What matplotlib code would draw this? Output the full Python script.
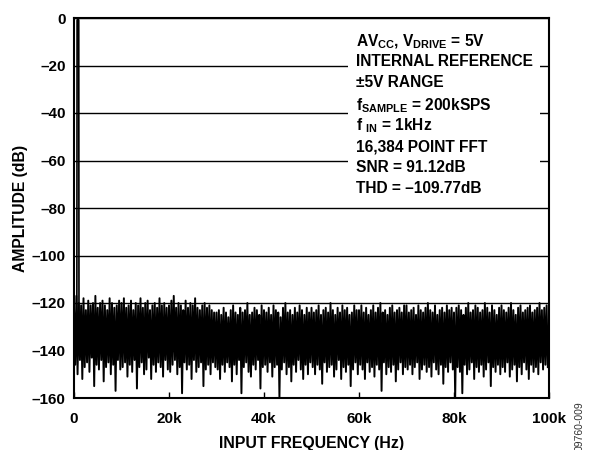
import numpy as np
import matplotlib
matplotlib.use('agg')
import matplotlib.pyplot as plt
from matplotlib.patches import Rectangle

plt.rcParams['font.family'] = ['Liberation Sans', 'DejaVu Sans']
plt.rcParams['font.weight'] = 'bold'
plt.rcParams['mathtext.fontset'] = 'custom'
plt.rcParams['mathtext.rm'] = 'Liberation Sans:bold'
plt.rcParams['mathtext.it'] = 'Liberation Sans:bold'
plt.rcParams['mathtext.bf'] = 'Liberation Sans:bold'

# fundamental at 1 kHz
fund_f = [600, 650, 850, 1000, 1050]
fund_db = [-125, -1, 0, -1, -125]

# noise floor, upper and lower ends of each stroke (every 500 Hz)
noise_hi = [
    -122, -117, -120, -121, -118, -123, -119, -121, -120, -117, -122, -120, -119, -121, -123, -118, -120, -122, -121, -119,
    -120, -118, -122, -121, -119, -123, -120, -121, -118, -122, -120, -119, -123, -121, -120, -122, -118, -121, -120, -122,
    -121, -119, -117, -122, -120, -121, -123, -119, -122, -120, -121, -118, -122, -123, -121, -120, -122, -121, -123, -124,
    -124, -123, -125, -122, -124, -126, -123, -121, -124, -125, -122, -124, -123, -120, -125, -124, -122, -123, -125, -121,
    -123, -124, -122, -125, -121, -123, -124, -126, -122, -120, -124, -123, -125, -122, -124, -121, -123, -125, -122, -124,
    -122, -124, -123, -121, -125, -123, -122, -124, -120, -123, -125, -122, -124, -121, -123, -122, -125, -124, -121, -123,
    -123, -121, -124, -122, -125, -123, -121, -124, -122, -120, -124, -123, -125, -122, -121, -124, -123, -122, -124, -121,
    -121, -124, -123, -122, -125, -121, -123, -124, -122, -120, -123, -124, -121, -125, -123, -122, -124, -121, -123, -122,
    -124, -122, -121, -123, -125, -122, -120, -124, -123, -121, -122, -124, -123, -120, -122, -124, -121, -123, -125, -122,
    -121, -123, -124, -122, -120, -123, -125, -122, -121, -124, -123, -122, -121, -124, -123, -122, -120, -123, -122, -121,
]
noise_lo = [
    -146, -150, -144, -152, -147, -145, -149, -143, -155, -146, -148, -144, -153, -147, -145, -150, -146, -157, -144, -148,
    -147, -145, -151, -146, -149, -144, -156, -147, -145, -150, -148, -143, -152, -146, -149, -145, -147, -151, -144, -148,
    -149, -146, -144, -150, -147, -158, -145, -148, -146, -152, -144, -149, -147, -145, -155, -148, -146, -150, -145, -147,
    -148, -152, -146, -149, -145, -147, -153, -146, -150, -144, -158, -147, -145, -149, -151, -146, -148, -144, -156, -147,
    -146, -149, -145, -151, -147, -146, -160, -148, -145, -150, -147, -153, -146, -149, -144, -148, -152, -146, -150, -145,
    -147, -150, -146, -148, -154, -145, -149, -147, -146, -151, -148, -144, -152, -147, -149, -146, -155, -148, -145, -150,
    -146, -148, -152, -145, -149, -147, -151, -146, -148, -157, -145, -150, -147, -149, -146, -153, -148, -145, -150, -147,
    -148, -146, -150, -147, -145, -152, -148, -146, -149, -147, -151, -145, -148, -150, -146, -154, -147, -149, -145, -148,
    -160, -147, -149, -158, -146, -150, -148, -145, -152, -147, -149, -146, -151, -148, -145, -155, -147, -149, -146, -150,
    -147, -149, -145, -151, -148, -146, -153, -147, -150, -145, -148, -152, -146, -149, -147, -150, -145, -148, -146, -147,
]

info_lines = [
    r'AV$_{\mathrm{CC}}$, V$_{\mathrm{DRIVE}}$ = 5V',
    'INTERNAL REFERENCE',
    '\u00b15V RANGE',
    r'f$_{\mathrm{SAMPLE}}$ = 200kSPS',
    r'f $_{\mathrm{IN}}$ = 1kHz',
    '16,384 POINT FFT',
    'SNR = 91.12dB',
    'THD = \u2013109.77dB',
]
info_base_px = [46.5, 66.5, 87, 110, 130.5, 151.5, 172, 192.5]

yticks = [0, -20, -40, -60, -80, -100, -120, -140, -160]
xticks = [0, 20000, 40000, 60000, 80000, 100000]
xticklabels = ['0', '20k', '40k', '60k', '80k', '100k']

# interleave hi/lo ends -> dense FFT-looking band
noise_db = np.empty(2 * len(noise_hi))
noise_db[0::2] = noise_hi
noise_db[1::2] = noise_lo
noise_f = np.arange(len(noise_db)) * 250.0

W, H = 592, 450
fig = plt.figure(figsize=(W / 100, H / 100), dpi=100)
L, R, T, B = 74, 549, 18, 398
ax = fig.add_axes([L / W, 1 - B / H, (R - L) / W, (B - T) / H])

def ax_x(px):
    return (px - L) / (R - L)

def ax_y(py):
    return 1 - (py - T) / (B - T)

ax.plot(noise_f, noise_db, color='black', lw=1.4, zorder=2)
ax.plot(fund_f, fund_db, color='black', lw=1.2, zorder=2)

ax.set_xlim(0, 100000)
ax.set_ylim(-160, 0)
ax.set_yticks(yticks)
ax.set_yticklabels([str(v).replace('-', '\u2013') for v in yticks])
ax.set_xticks(xticks)
ax.set_xticklabels(xticklabels)
ax.grid(axis='y', color='black', lw=1.0)
ax.set_axisbelow(True)
ax.tick_params(axis='y', length=0, pad=6, labelsize=11)
ax.tick_params(axis='x', direction='in', length=4, width=1, pad=10, labelsize=11)
for s in ax.spines.values():
    s.set_linewidth(1.5)

# white patch behind the annotation block
ax.add_patch(Rectangle((ax_x(348), ax_y(198)), ax_x(540) - ax_x(348), ax_y(30) - ax_y(198),
                       transform=ax.transAxes, facecolor='white', edgecolor='none', zorder=1))
for line, py in zip(info_lines, info_base_px):
    ax.text(ax_x(356), ax_y(py), line, transform=ax.transAxes, fontsize=11.2,
            fontweight='bold', va='baseline', ha='left', zorder=3)

ax.set_xlabel('INPUT FREQUENCY (Hz)', fontsize=11.4, fontweight='bold', labelpad=7)
ax.set_ylabel('AMPLITUDE (dB)', fontsize=11.3, fontweight='bold', labelpad=3)

fig.text(580 / W, 1 - 401 / H, '09760-009', rotation=90, fontsize=7.5, fontweight='normal',
         ha='center', va='top', color='#333333')

fig.savefig('out.png', dpi=100)
